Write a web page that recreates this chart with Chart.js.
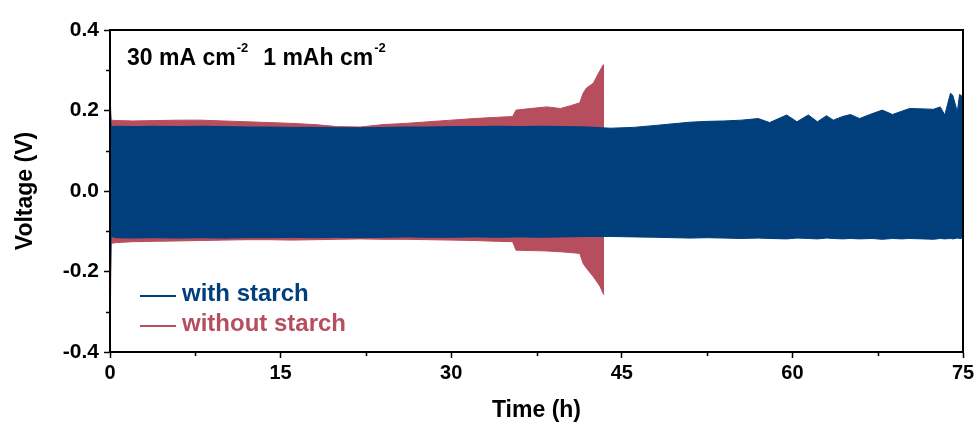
<!DOCTYPE html>
<html>
<head>
<meta charset="utf-8">
<script src="https://cdn.jsdelivr.net/npm/chart.js@4.4.1/dist/chart.umd.min.js"></script>
<style>
  html, body { margin: 0; padding: 0; background: #fff; }
  #wrap { width: 980px; height: 430px; }
</style>
</head>
<body>
<div id="wrap"><canvas id="voltageProfile"></canvas></div>
<script>
// envelope of the cycling curves (upper = plating peak, lower = stripping peak)
const timeWithStarch = [0, 0.1, 0.6, 2, 4, 6, 8, 10, 12, 14, 16, 18, 20, 22, 24, 26, 28, 30, 32, 34,
  36, 38, 40, 42, 44, 46, 48, 49.5, 51, 52.5, 54, 55.5, 57, 58, 59.5, 60.4, 61.4, 62.2, 63, 63.6,
  64.4, 65.1, 65.9, 67, 67.9, 68.8, 69.6, 70.3, 71.5, 72.4, 73, 73.4, 73.9, 74.1, 74.5, 74.7, 75];
const upperWithStarch = [0.222, 0.160, 0.161, 0.160, 0.161, 0.160, 0.161, 0.160, 0.159, 0.159,
  0.158, 0.158, 0.157, 0.157, 0.158, 0.159, 0.159, 0.160, 0.160, 0.161,
  0.160, 0.161, 0.160, 0.159, 0.156, 0.158, 0.163, 0.167, 0.171, 0.173,
  0.174, 0.176, 0.180, 0.170, 0.189, 0.172, 0.189, 0.172, 0.187, 0.176,
  0.185, 0.190, 0.180, 0.192, 0.201, 0.190, 0.198, 0.205, 0.204, 0.203,
  0.209, 0.189, 0.243, 0.238, 0.197, 0.240, 0.234];
const lowerWithStarch = [-0.290, -0.113, -0.116, -0.117, -0.116, -0.117, -0.116, -0.117, -0.116, -0.116,
  -0.115, -0.116, -0.115, -0.116, -0.115, -0.114, -0.115, -0.115, -0.114, -0.115,
  -0.114, -0.115, -0.114, -0.113, -0.113, -0.114, -0.115, -0.116, -0.117, -0.116,
  -0.117, -0.118, -0.117, -0.118, -0.119, -0.117, -0.118, -0.119, -0.117, -0.118,
  -0.119, -0.118, -0.119, -0.118, -0.120, -0.118, -0.119, -0.118, -0.119, -0.120,
  -0.118, -0.119, -0.118, -0.119, -0.117, -0.118, -0.117];

const timeWithoutStarch = [0, 0.1, 0.6, 2, 4, 6, 8, 10, 12, 14, 16, 18, 20, 22, 24, 26, 28, 30, 32, 34,
  35.4, 35.7, 37, 38.4, 39.6, 40.5, 41.3, 41.6, 41.9, 42.5, 42.9, 43.1, 43.35, 43.45];
const upperWithoutStarch = [0.244, 0.176, 0.175, 0.174, 0.175, 0.176, 0.176, 0.174, 0.172, 0.170,
  0.168, 0.165, 0.160, 0.159, 0.165, 0.168, 0.172, 0.176, 0.180, 0.183,
  0.185, 0.201, 0.205, 0.209, 0.205, 0.212, 0.219, 0.243, 0.256, 0.268,
  0.290, 0.300, 0.313, 0.313];
const lowerWithoutStarch = [-0.390, -0.130, -0.128, -0.126, -0.125, -0.124, -0.123, -0.122, -0.121, -0.121,
  -0.122, -0.121, -0.120, -0.119, -0.120, -0.120, -0.121, -0.122, -0.123, -0.125,
  -0.126, -0.147, -0.148, -0.149, -0.151, -0.153, -0.155, -0.180, -0.192, -0.213,
  -0.229, -0.238, -0.254, -0.258];

const seriesNames = ['with starch', 'without starch'];
const noteParts = [['30 mA cm', '-2'], ['1 mAh cm', '-2']];
const minorTicksX = [7.5, 22.5, 37.5, 52.5, 67.5];
const minorTicksY = [-0.3, -0.1, 0.1, 0.3];

const BLUE = '#013e7c';
const RED = '#b64e5d';
const FONT = '"Liberation Sans", Arial, sans-serif';

const toPoints = (xs, ys) => xs.map((t, i) => ({ x: t, y: ys[i] }));

const envelope = (label, xs, ys, color, fill) => ({
  label: label,
  data: toPoints(xs, ys),
  borderColor: color,
  backgroundColor: color,
  borderWidth: 1,
  pointRadius: 0,
  tension: 0,
  fill: fill
});

// drawn last-index-first, so the blue band ends up on top of the red one
const datasets = [
  envelope(seriesNames[0], timeWithStarch, upperWithStarch, BLUE, '+1'),
  envelope(seriesNames[0], timeWithStarch, lowerWithStarch, BLUE, false),
  envelope(seriesNames[1], timeWithoutStarch, upperWithoutStarch, RED, '+1'),
  envelope(seriesNames[1], timeWithoutStarch, lowerWithoutStarch, RED, false)
];

const decorations = {
  id: 'decorations',
  afterDraw(chart) {
    const { ctx, chartArea: a, scales: { x, y } } = chart;
    ctx.save();

    // box around the plot
    ctx.strokeStyle = '#000';
    ctx.lineWidth = 2;
    ctx.strokeRect(a.left, a.top, a.right - a.left, a.bottom - a.top);

    // minor ticks
    ctx.lineWidth = 1.5;
    ctx.beginPath();
    minorTicksY.forEach(v => {
      const py = Math.round(y.getPixelForValue(v)) + 0.5;
      ctx.moveTo(a.left - 4, py);
      ctx.lineTo(a.left, py);
    });
    minorTicksX.forEach(v => {
      const px = Math.round(x.getPixelForValue(v)) + 0.5;
      ctx.moveTo(px, a.bottom);
      ctx.lineTo(px, a.bottom + 4);
    });
    ctx.stroke();

    // current density / capacity note
    ctx.fillStyle = '#000';
    ctx.textBaseline = 'alphabetic';
    let px = a.left + 17;
    const base = a.top + 35;
    noteParts.forEach(([txt, sup]) => {
      ctx.font = 'bold 23px ' + FONT;
      ctx.fillText(txt, px, base);
      px += ctx.measureText(txt).width + 1;
      ctx.font = 'bold 13px ' + FONT;
      ctx.fillText(sup, px, base - 13);
      px += ctx.measureText(sup).width + 15;
    });

    // legend
    const colors = [BLUE, RED];
    seriesNames.forEach((name, i) => {
      const ly = 296 + i * 30;
      ctx.strokeStyle = colors[i];
      ctx.lineWidth = 2;
      ctx.beginPath();
      ctx.moveTo(a.left + 30, ly);
      ctx.lineTo(a.left + 66, ly);
      ctx.stroke();
      ctx.fillStyle = colors[i];
      ctx.font = 'bold 24px ' + FONT;
      ctx.fillText(name, a.left + 72, ly + 5);
    });

    ctx.restore();
  }
};

new Chart(document.getElementById('voltageProfile'), {
  type: 'line',
  data: { datasets: datasets },
  options: {
    responsive: true,
    maintainAspectRatio: false,
    animation: false,
    events: [],
    layout: { padding: { top: 30, right: 17, left: 0, bottom: 0 } },
    plugins: {
      legend: { display: false },
      tooltip: { enabled: false }
    },
    scales: {
      x: {
        type: 'linear',
        min: 0,
        max: 75,
        afterFit: s => { s.height = 78; },
        ticks: {
          stepSize: 15,
          color: '#000',
          padding: 3,
          maxRotation: 0,
          font: { family: FONT, size: 20, weight: 'bold' }
        },
        grid: { drawOnChartArea: false, tickLength: 6, tickColor: '#000', tickWidth: 1.5 },
        border: { display: true, color: '#000', width: 2 },
        title: {
          display: true,
          text: 'Time (h)',
          color: '#000',
          padding: { top: 0, bottom: 6 },
          font: { family: FONT, size: 23, weight: 'bold' }
        }
      },
      y: {
        type: 'linear',
        min: -0.4,
        max: 0.4,
        afterFit: s => { s.width = 110; },
        ticks: {
          stepSize: 0.2,
          color: '#000',
          padding: 5,
          font: { family: FONT, size: 21, weight: 'bold' },
          callback: v => (Math.abs(v) < 1e-9 ? '0.0' : Number(v).toFixed(1))
        },
        grid: { drawOnChartArea: false, tickLength: 6, tickColor: '#000', tickWidth: 1.5 },
        border: { display: true, color: '#000', width: 2 },
        title: {
          display: true,
          text: 'Voltage (V)',
          color: '#000',
          padding: { top: 12, bottom: 0 },
          font: { family: FONT, size: 23, weight: 'bold' }
        }
      }
    }
  },
  plugins: [decorations]
});
</script>
</body>
</html>
